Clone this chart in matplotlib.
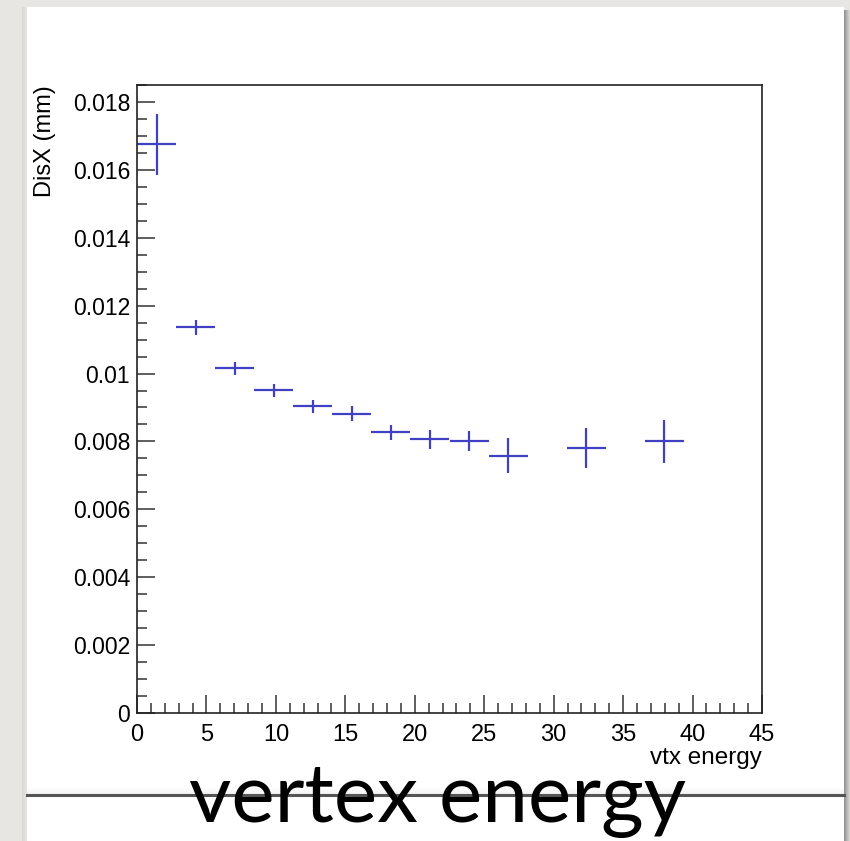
import matplotlib
matplotlib.use("Agg")
import matplotlib.pyplot as plt
from matplotlib.patches import Rectangle
from matplotlib.lines import Line2D
from matplotlib.ticker import MultipleLocator, FuncFormatter
import numpy as np

# Binned resolution vs vertex energy (16 bins of width 45/16, empty bins skipped)
bin_centers = [1.41, 4.22, 7.03, 9.84, 12.66, 15.47, 18.28, 21.09, 23.91, 26.72, 32.34, 37.97]
bin_half_width = 1.406
disx = [0.01676, 0.01136, 0.01015, 0.00951, 0.00903, 0.00882, 0.00827, 0.00806, 0.00802, 0.00758, 0.00781, 0.00800]
disx_err = [0.00090, 0.00021, 0.00018, 0.00019, 0.00020, 0.00022, 0.00022, 0.00027, 0.00030, 0.00052, 0.00060, 0.00064]

y_ticks = [0, 0.002, 0.004, 0.006, 0.008, 0.01, 0.012, 0.014, 0.016, 0.018]

W, H = 850, 841
fig = plt.figure(figsize=(W / 100, H / 100), dpi=100)
fig.patch.set_facecolor("#e8e6e2")


def px_rect(x0, y0, x1, y1, **kw):
    # rectangle given in pixel coords measured from the top-left corner
    return Rectangle((x0 / W, 1 - y1 / H), (x1 - x0) / W, (y1 - y0) / H,
                     transform=fig.transFigure, **kw)


# drop shadow on the right of the white sheet
for i, a in enumerate(np.linspace(0.55, 0.1, 6)):
    fig.patches.append(px_rect(844 + i, 10, 845 + i, H, facecolor="#505050",
                               alpha=a, edgecolor="none"))
# soft shadow on the left
for i, a in enumerate(np.linspace(0.12, 0.02, 5)):
    fig.patches.append(px_rect(22 + i, 7, 23 + i, H, facecolor="#808080",
                               alpha=a, edgecolor="none"))
# white sheet
fig.patches.append(px_rect(27, 7, 844, H, facecolor="white", edgecolor="none"))
# faint shading just above the divider line
for i, a in enumerate(np.linspace(0.02, 0.10, 6)):
    fig.patches.append(px_rect(27, 788 + i, 844, 789 + i, facecolor="#909090",
                               alpha=a, edgecolor="none"))
fig.lines.append(Line2D([27 / W, 844 / W], [1 - 794.5 / H] * 2,
                        transform=fig.transFigure, color="#555555", lw=2.2))

# plot frame, kept above the sheet patches
ax = fig.add_axes([137 / W, 1 - 713 / H, (762 - 137) / W, (713 - 85) / H])
ax.set_zorder(5)
ax.set_facecolor("white")
ax.errorbar(bin_centers, disx, xerr=bin_half_width, yerr=disx_err, fmt="none",
            ecolor="#4040c4", elinewidth=1.6, capsize=0)

ax.set_xlim(0, 45)
ax.set_ylim(0, 0.0185)
ax.xaxis.set_major_locator(MultipleLocator(5))
ax.xaxis.set_minor_locator(MultipleLocator(1))
ax.set_yticks(y_ticks)
ax.yaxis.set_minor_locator(MultipleLocator(0.0005))
ax.yaxis.set_major_formatter(FuncFormatter(lambda v, p: f"{v:g}"))

tick_font = "Liberation Sans"
ax.tick_params(which="both", direction="in", top=False, right=False,
               color="#333333", width=1.1)
ax.tick_params(which="major", length=13, pad=5)
ax.tick_params(axis="y", which="major", labelsize=16.5)
ax.tick_params(axis="x", which="major", labelsize=17, pad=8)
ax.tick_params(which="minor", length=7)
for lab in ax.get_xticklabels() + ax.get_yticklabels():
    lab.set_fontfamily(tick_font)

for s in ax.spines.values():
    s.set_linewidth(1.2)
    s.set_color("#222222")

ax.set_ylabel("DisX (mm)", fontsize=17, family=tick_font, loc="top")
ax.yaxis.set_label_coords(-0.13, 1.0)
ax.set_xlabel("vtx energy", fontsize=17.5, family=tick_font, loc="right")
ax.xaxis.set_label_coords(1.0, -0.054)

# slide caption
fig.text(437 / W, 1 - 822 / H, "vertex energy", ha="center", va="baseline",
         fontsize=59, family="Lato", color="black", zorder=6)

fig.savefig("out.png", dpi=100, facecolor=fig.get_facecolor())
